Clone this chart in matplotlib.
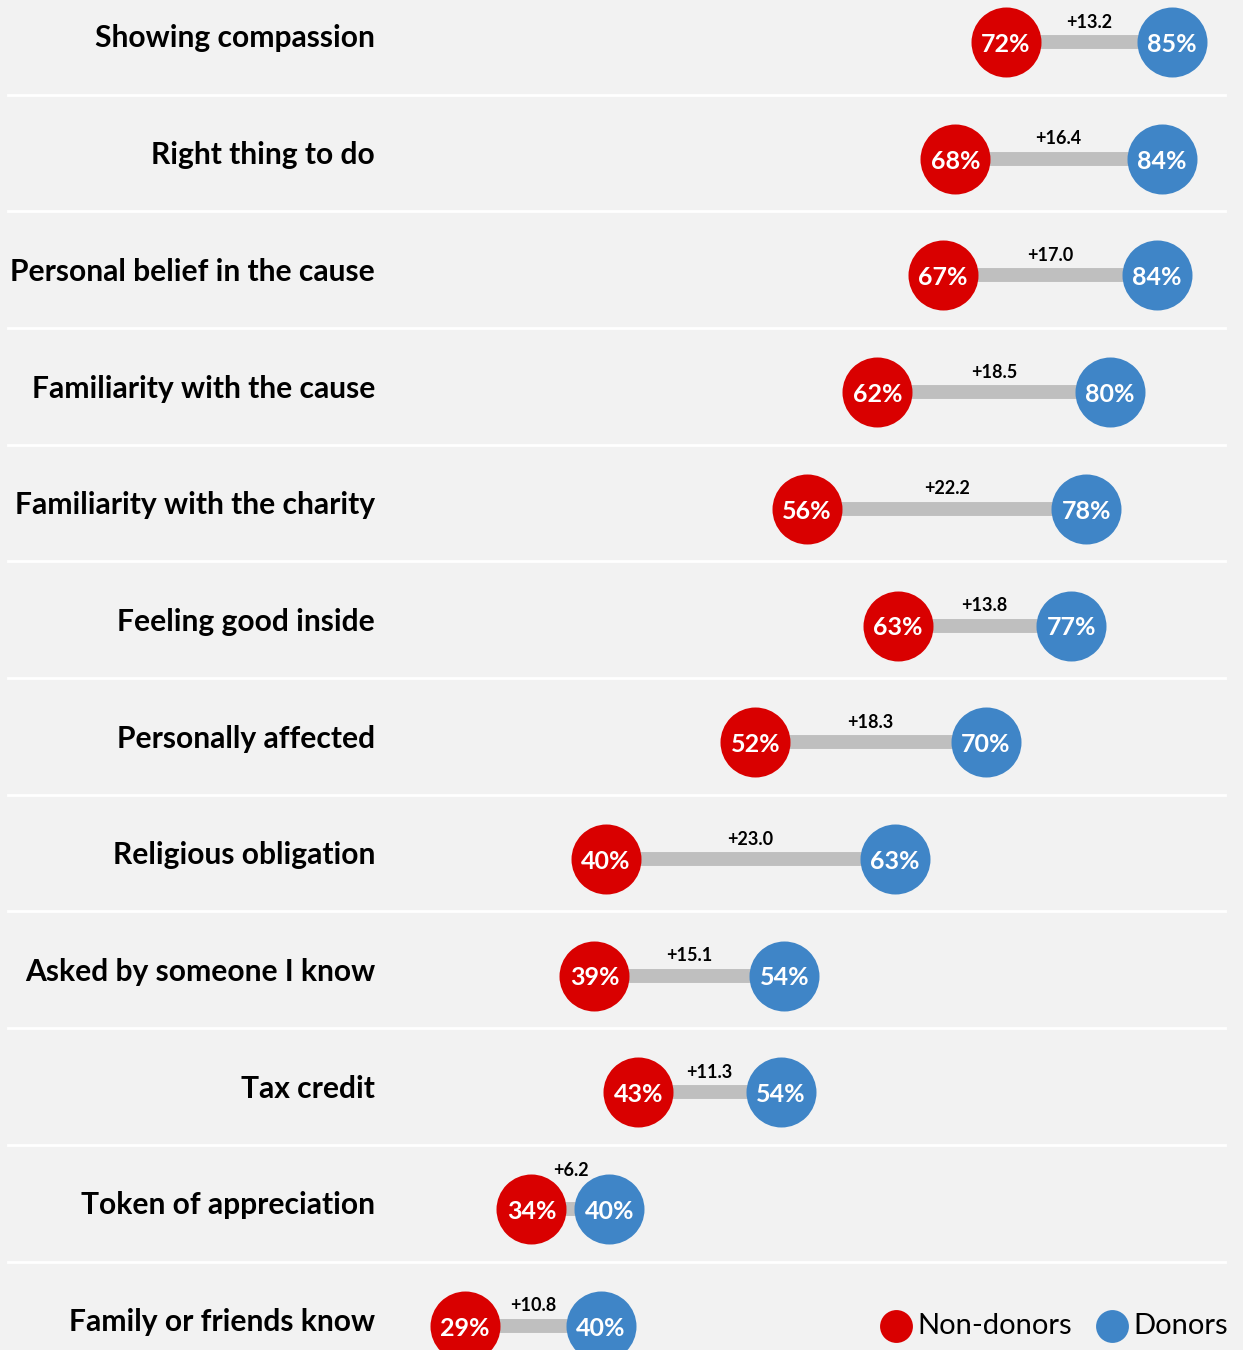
import matplotlib
matplotlib.use('Agg')
import matplotlib.pyplot as plt

# reasons for giving, donors vs non-donors (% agreeing)
reasons = ['Showing compassion', 'Right thing to do', 'Personal belief in the cause',
           'Familiarity with the cause', 'Familiarity with the charity', 'Feeling good inside',
           'Personally affected', 'Religious obligation', 'Asked by someone I know',
           'Tax credit', 'Token of appreciation', 'Family or friends know']
non_donors = [72.0, 68.0, 67.0, 61.8, 56.2, 63.4, 52.1, 40.2, 39.3, 42.8, 34.3, 29.0]
donors = [85.2, 84.4, 84.0, 80.3, 78.4, 77.2, 70.4, 63.2, 54.4, 54.1, 40.5, 39.8]

RED = '#D90000'
BLUE = '#3F85C7'
GREY = '#BFBFBF'
BG = '#F2F2F2'
W, H = 1243, 1350

plt.rcParams['font.family'] = ['Lato', 'DejaVu Sans']

fig = plt.figure(figsize=(W / 100, H / 100), dpi=100)
fig.patch.set_facecolor(BG)
ax = fig.add_axes([0, 0, 1, 1])
ax.set_facecolor(BG)
ax.set_xlim(-100 / 12.58, (W - 100) / 12.58)
ax.set_ylim((H - 42) / 116.7, -42 / 116.7)
ax.axis('off')

rows = list(range(len(reasons)))

# white separators between rows
for i in rows[:-1]:
    ax.axhline(i + 0.45, xmin=8 / W, xmax=1225 / W, color='white', lw=2, zorder=1)

for i, (name, n, d) in enumerate(zip(reasons, non_donors, donors)):
    ax.plot([n, d], [i, i], color=GREY, lw=10, solid_capstyle='butt', zorder=2)
    ax.text(375 / W, i - 0.03, name, transform=ax.get_yaxis_transform(),
            ha='right', va='center', fontsize=21.6, fontweight='bold', color='black')
    # small gaps: the circles touch, so lift the label above them
    dy = 0.33 if d - n < 8 else 0.17
    ax.text((n + d) / 2, i - dy, '+%.1f' % (d - n), ha='center', va='center',
            fontsize=13, fontweight='bold', color='black', zorder=4)

ax.scatter(non_donors, rows, s=2540, color=RED, zorder=3, linewidths=0)
ax.scatter(donors, rows, s=2540, color=BLUE, zorder=3, linewidths=0)
for i in rows:
    ax.text(non_donors[i], i + 0.02, '%d%%' % round(non_donors[i]), ha='center', va='center',
            fontsize=18, fontweight='bold', color='white', zorder=5)
    ax.text(donors[i], i + 0.02, '%d%%' % round(donors[i]), ha='center', va='center',
            fontsize=18, fontweight='bold', color='white', zorder=5)

# legend, bottom right
for cx, col, lab in [(896, RED, 'Non-donors'), (1112, BLUE, 'Donors')]:
    ax.scatter([cx / W], [1 - 1326 / H], s=560, color=col, transform=ax.transAxes,
               clip_on=False, zorder=5, linewidths=0)
    ax.text((cx + 21) / W, 1 - 1326 / H, lab, transform=ax.transAxes, ha='left',
            va='center', fontsize=21, color='black')

fig.savefig('out.png', dpi=100, facecolor=BG)
